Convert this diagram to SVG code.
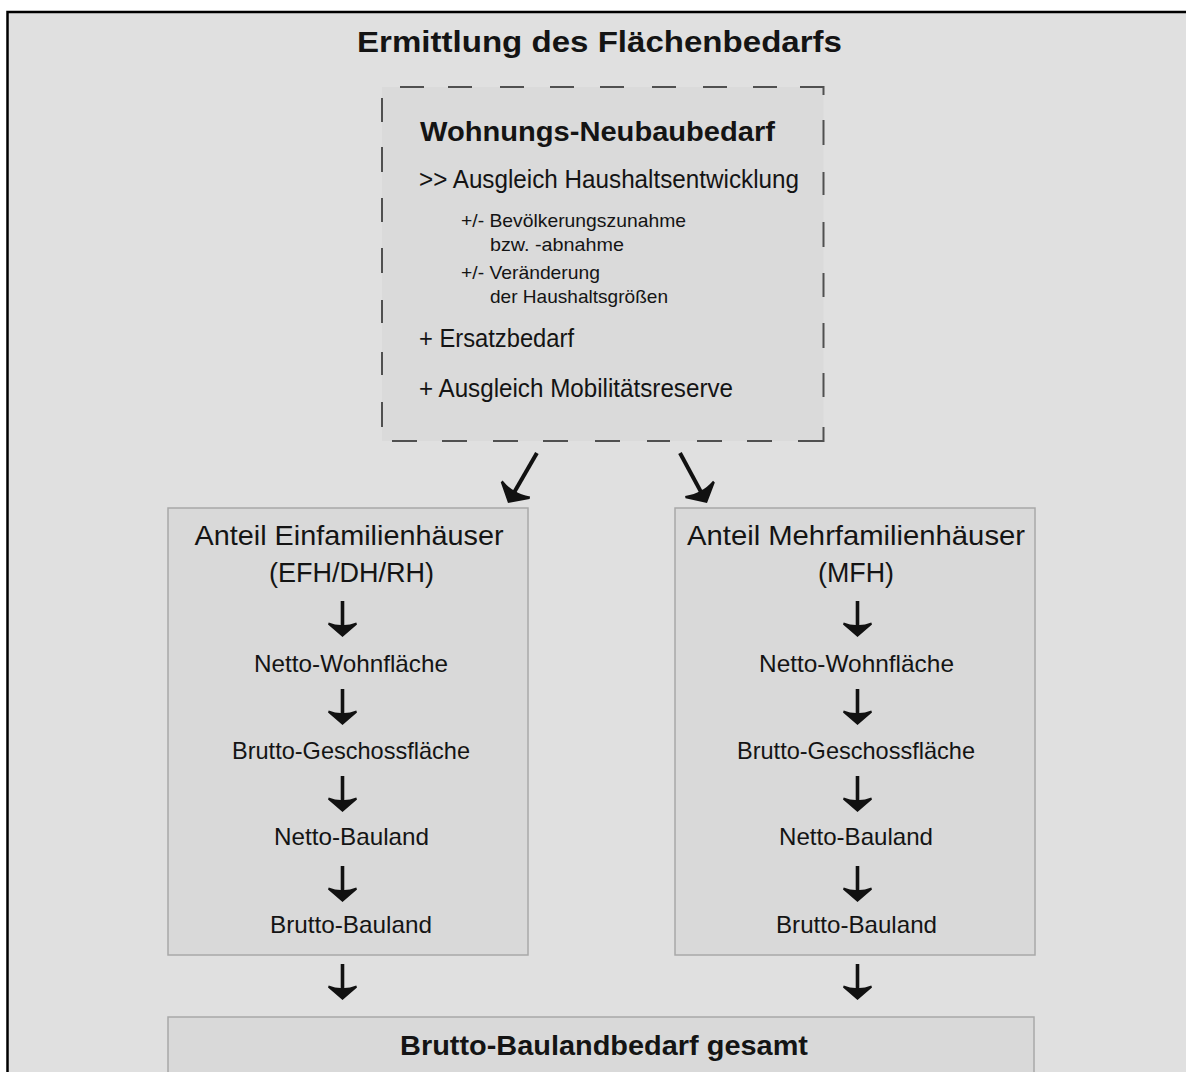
<svg xmlns="http://www.w3.org/2000/svg" xmlns:xlink="http://www.w3.org/1999/xlink" width="1186" height="1072" viewBox="0 0 1186 1072">
<style>
  text { font-family: "Liberation Sans", Arial, sans-serif; fill: #141414; }
  .b { font-weight: bold; }
  .box { fill: #d9d9d9; stroke: #a8a8a8; stroke-width: 1.5; }
  .dash { fill: none; stroke: #505050; stroke-width: 2; }
  .stem { stroke: #111; stroke-width: 3.6; fill: none; }
  .head { fill: #111; }
  .c { text-anchor: middle; }
  .t24 { font-size: 24px; }
  .t28 { font-size: 28px; }
  .t25 { font-size: 25px; }
  .t19 { font-size: 19px; }
</style>
<defs>
  <path id="ahead" class="head" d="M0,0 L-14.5,-12.5 L-13.8,-14.5 Q-6,-11.5 0,-12 Q6,-11.5 13.8,-14.5 L14.5,-12.5 Z"/>
  <g id="arrowDown">
    <line class="stem" x1="0" y1="-36" x2="0" y2="-8"/>
    <use xlink:href="#ahead"/>
  </g>
</defs>
<rect x="0" y="0" width="1186" height="1072" fill="#ffffff"/>
<rect id="frame" x="7.5" y="12" width="1200" height="1100" fill="#e0e0e0" stroke="#000" stroke-width="2.5"/>

<g id="title">
  <text class="b" x="357" y="52" font-size="30" textLength="485" lengthAdjust="spacingAndGlyphs">Ermittlung des Flächenbedarfs</text>
</g>

<g id="neubaubedarf">
  <rect x="382" y="87" width="441.5" height="354" fill="#dadada"/>
  <path class="dash" d="M400,87H424 M448,87H472 M500,87H524 M550,87H574 M600,87H624 M652,87H676 M703,87H727 M753,87H777 M800,87H823.5V95
    M823.5,120V145 M823.5,172V195 M823.5,222V247 M823.5,273V297 M823.5,323V348 M823.5,373V397 M823.5,427V441H798
    M772,441H747 M722,441H697 M670,441H647 M620,441H595 M568,441H543 M518,441H493 M467,441H442 M417,441H392
    M382,427V402 M382,375V352 M382,323V300 M382,273V248 M382,222V198 M382,172V147 M382,122V98"/>
  <text class="b t28" x="420" y="141" textLength="355" lengthAdjust="spacingAndGlyphs">Wohnungs-Neubaubedarf</text>
  <text class="t25" x="419" y="188" textLength="380" lengthAdjust="spacingAndGlyphs">&gt;&gt; Ausgleich Haushaltsentwicklung</text>
  <text class="t19" x="461" y="227" textLength="225" lengthAdjust="spacingAndGlyphs">+/- Bevölkerungszunahme</text>
  <text class="t19" x="490" y="250.5" textLength="134" lengthAdjust="spacingAndGlyphs">bzw. -abnahme</text>
  <text class="t19" x="461" y="279" textLength="139" lengthAdjust="spacingAndGlyphs">+/- Veränderung</text>
  <text class="t19" x="490" y="302.5" textLength="178" lengthAdjust="spacingAndGlyphs">der Haushaltsgrößen</text>
  <text class="t25" x="419" y="346.5" textLength="155" lengthAdjust="spacingAndGlyphs">+ Ersatzbedarf</text>
  <text class="t25" x="419" y="397" textLength="314" lengthAdjust="spacingAndGlyphs">+ Ausgleich Mobilitätsreserve</text>
</g>

<g id="efh">
  <rect class="box" x="168" y="508" width="360" height="447"/>
  <text class="t28 c" x="349" y="545" textLength="309" lengthAdjust="spacingAndGlyphs">Anteil Einfamilienhäuser</text>
  <text class="t28 c" x="351.5" y="582" textLength="165" lengthAdjust="spacingAndGlyphs">(EFH/DH/RH)</text>
  <text class="t24 c" x="351" y="672" textLength="194" lengthAdjust="spacingAndGlyphs">Netto-Wohnfläche</text>
  <text class="t24 c" x="351" y="759" textLength="238" lengthAdjust="spacingAndGlyphs">Brutto-Geschossfläche</text>
  <text class="t24 c" x="351.5" y="845" textLength="155" lengthAdjust="spacingAndGlyphs">Netto-Bauland</text>
  <text class="t24 c" x="351" y="933" textLength="162" lengthAdjust="spacingAndGlyphs">Brutto-Bauland</text>
</g>

<g id="mfh">
  <rect class="box" x="675" y="508" width="360" height="447"/>
  <text class="t28 c" x="856" y="545" textLength="338" lengthAdjust="spacingAndGlyphs">Anteil Mehrfamilienhäuser</text>
  <text class="t28 c" x="856" y="582" textLength="76" lengthAdjust="spacingAndGlyphs">(MFH)</text>
  <text class="t24 c" x="856.5" y="672" textLength="195" lengthAdjust="spacingAndGlyphs">Netto-Wohnfläche</text>
  <text class="t24 c" x="856" y="759" textLength="238" lengthAdjust="spacingAndGlyphs">Brutto-Geschossfläche</text>
  <text class="t24 c" x="856" y="845" textLength="154" lengthAdjust="spacingAndGlyphs">Netto-Bauland</text>
  <text class="t24 c" x="856.5" y="933" textLength="161" lengthAdjust="spacingAndGlyphs">Brutto-Bauland</text>
</g>

<g id="gesamt">
  <rect class="box" x="168" y="1017" width="866" height="80"/>
  <text class="b" x="400" y="1055" font-size="27" textLength="408" lengthAdjust="spacingAndGlyphs">Brutto-Baulandbedarf gesamt</text>
</g>

<g id="connectors">
  <g transform="translate(508,503) rotate(30)">
    <line class="stem" x1="0" y1="-57.8" x2="0" y2="-9" style="stroke-width:4"/>
    <use xlink:href="#ahead" transform="scale(1.15)"/>
  </g>
  <g transform="translate(707,503) rotate(-28.4)">
    <line class="stem" x1="0" y1="-56.8" x2="0" y2="-9" style="stroke-width:4"/>
    <use xlink:href="#ahead" transform="scale(1.15)"/>
  </g>
  <use xlink:href="#arrowDown" x="342.5" y="637"/>
  <use xlink:href="#arrowDown" x="342.5" y="725"/>
  <use xlink:href="#arrowDown" x="342.5" y="812"/>
  <use xlink:href="#arrowDown" x="342.5" y="902"/>
  <use xlink:href="#arrowDown" x="342.5" y="1000"/>
  <use xlink:href="#arrowDown" x="857.5" y="637"/>
  <use xlink:href="#arrowDown" x="857.5" y="725"/>
  <use xlink:href="#arrowDown" x="857.5" y="812"/>
  <use xlink:href="#arrowDown" x="857.5" y="902"/>
  <use xlink:href="#arrowDown" x="857.5" y="1000"/>
</g>
</svg>
